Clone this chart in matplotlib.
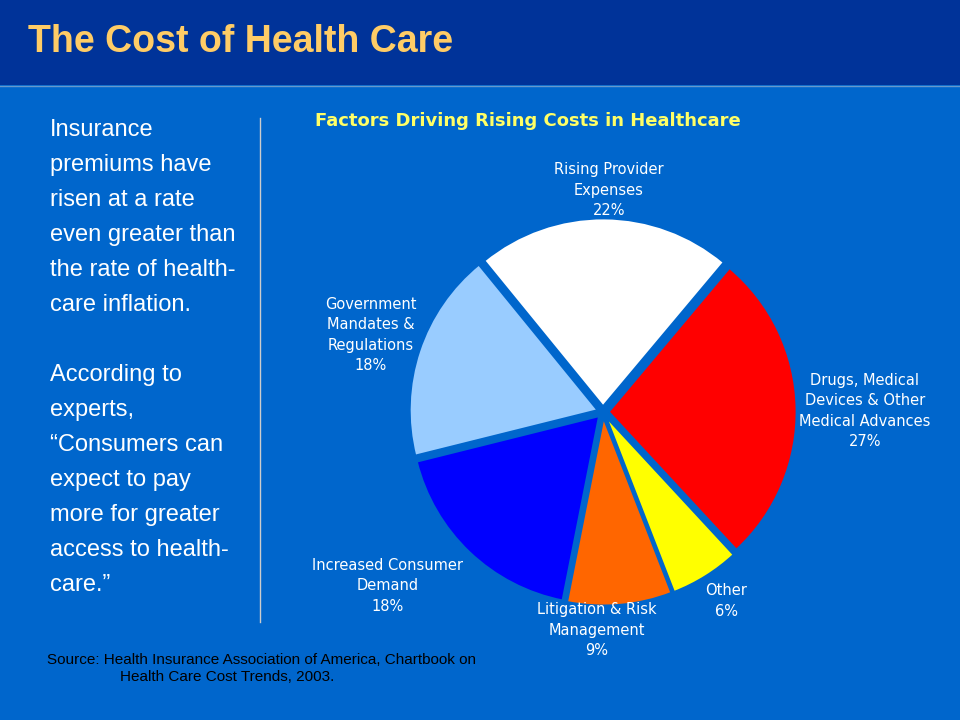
import matplotlib
matplotlib.use("Agg")
import matplotlib.pyplot as plt
from matplotlib.patches import Rectangle
from matplotlib.lines import Line2D

categories = ["Drugs, Medical\nDevices & Other\nMedical Advances", "Other",
              "Litigation & Risk\nManagement", "Increased Consumer\nDemand",
              "Government\nMandates &\nRegulations", "Rising Provider\nExpenses"]
values = [27, 6, 9, 18, 18, 22]
colors = ["#FF0000", "#FFFF00", "#FF6600", "#0000FF", "#99CCFF", "#FFFFFF"]
label_pos = [(865, 411), (726, 601), (597, 630), (388, 586), (371, 335), (609, 190)]

W, H = 960, 720
fig = plt.figure(figsize=(9.6, 7.2), dpi=100)
fig.patch.set_facecolor("#0066CC")
def P(x, y): return (x / W, 1 - y / H)

fig.patches.append(Rectangle((0, 1 - 85 / H), 1, 85 / H, transform=fig.transFigure,
                             facecolor="#003399", edgecolor="none", zorder=0))
fig.lines.append(Line2D([0, 1], [1 - 86 / H] * 2, transform=fig.transFigure, color="#6699CC", lw=1))
narrow = ["Liberation Sans Narrow", "Liberation Sans", "DejaVu Sans"]
fig.text(*P(28, 42), "The Cost of Health Care", color="#FFCC66", fontsize=27, fontweight="bold",
         family=narrow, va="center", ha="left")

left = ["Insurance", "premiums have", "risen at a rate", "even greater than", "the rate of health-",
        "care inflation.", "", "According to", "experts,", "\u201cConsumers can", "expect to pay",
        "more for greater", "access to health-", "care.\u201d"]
for i, t in enumerate(left):
    fig.text(*P(50, 130 + i * 35), t, color="white", fontsize=17, family=narrow, va="center")
fig.lines.append(Line2D([260 / W] * 2, [1 - 118 / H, 1 - 622 / H], transform=fig.transFigure,
                        color="#CCCCCC", lw=1))

fig.text(*P(528, 121), "Factors Driving Rising Costs in Healthcare", color="#FFFF66", fontsize=13,
         fontweight="bold", family=["DejaVu Sans"], ha="center", va="center")

cx, cy, r = 603, 412, 188
s = r * 1.1
ax = fig.add_axes([(cx - s) / W, 1 - (cy + s) / H, 2 * s / W, 2 * s / H])
ax.set_facecolor("none")
ax.pie(values, colors=colors, startangle=50, counterclock=False, explode=[0.03] * 6,
       wedgeprops=dict(edgecolor="#0066CC", linewidth=1.5))
ax.set_xlim(-1.1, 1.1); ax.set_ylim(-1.1, 1.1); ax.set_aspect("equal"); ax.axis("off")

for c, v, (x, y) in zip(categories, values, label_pos):
    fig.text(*P(x, y), f"{c}\n{v}%", color="white", fontsize=10.5, family=["DejaVu Sans"],
             ha="center", va="center", linespacing=1.45)

fig.text(*P(47, 660), "Source: Health Insurance Association of America, Chartbook on", color="black",
         fontsize=11, family=["Liberation Sans"], va="center")
fig.text(*P(120, 677), "Health Care Cost Trends, 2003.", color="black",
         fontsize=11, family=["Liberation Sans"], va="center")
fig.savefig("out.png", dpi=100, facecolor=fig.get_facecolor())
